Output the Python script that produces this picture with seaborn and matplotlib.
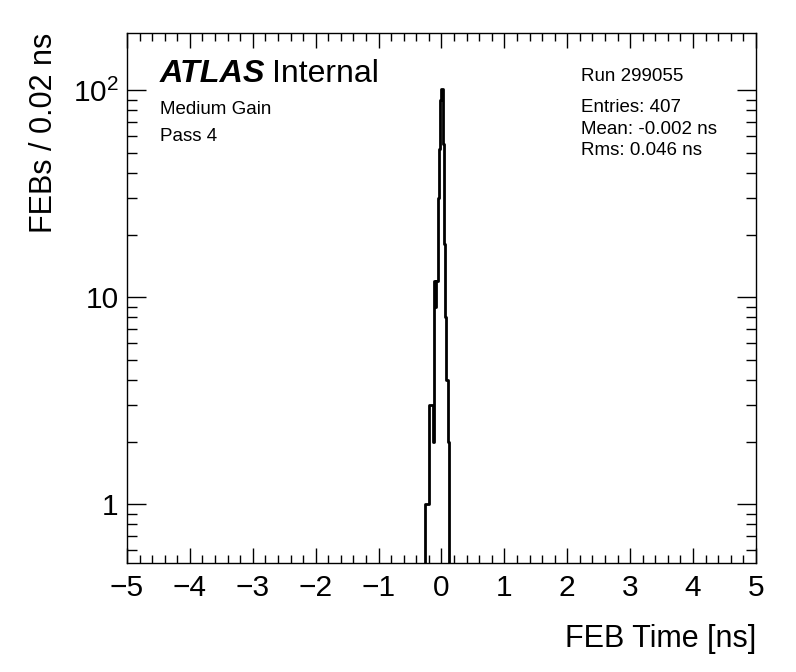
import numpy as np
import pandas as pd
import matplotlib
matplotlib.use("Agg")
import matplotlib.pyplot as plt
import seaborn as sns
from matplotlib.ticker import MultipleLocator, FixedLocator, FixedFormatter, LogLocator, NullFormatter

# ---- data ----
bin_width = 0.02
bin_index = [-13, -12, -11, -10, -9, -8, -7, -6, -5, -4, -3, -2, -1, 0, 1, 2, 3, 4, 5]
counts = [1, 1, 1, 3, 3, 3, 2, 12, 9, 12, 30, 52, 90, 101, 55, 18, 8, 4, 2]
x_range = (-5, 5)
y_ticks = [1, 10, 100]
y_ticklabels = ["1", "10", "$10^{2}$"]
x_ticks = [-5, -4, -3, -2, -1, 0, 1, 2, 3, 4, 5]

df = pd.DataFrame({
    "time": [(k + 0.5) * bin_width for k in bin_index],
    "n": counts,
})

sns.set_style("ticks")
plt.rcParams["font.family"] = ["Liberation Sans", "DejaVu Sans"]
plt.rcParams["mathtext.fontset"] = "custom"
plt.rcParams["mathtext.rm"] = "Liberation Sans"
plt.rcParams["mathtext.it"] = "Liberation Sans:italic"
for key in ["text.color", "axes.labelcolor", "xtick.color", "ytick.color", "axes.edgecolor"]:
    plt.rcParams[key] = "black"

fig = plt.figure(figsize=(7.96, 6.72), dpi=100)
ax = fig.add_axes([0.1595, 0.1622, 0.7902, 0.7887])

sns.histplot(data=df, x="time", weights="n", binwidth=bin_width, binrange=x_range,
             element="step", fill=False, color="black", linewidth=2.0, ax=ax)

ax.set_yscale("log")
ax.set_xlim(*x_range)
ax.set_ylim(0.52, 189)

for s in ax.spines.values():
    s.set_linewidth(1.0)
    s.set_color("black")

ax.xaxis.set_major_locator(FixedLocator(x_ticks))
ax.xaxis.set_minor_locator(MultipleLocator(0.2))
ax.yaxis.set_major_locator(FixedLocator(y_ticks))
ax.yaxis.set_major_formatter(FixedFormatter(y_ticklabels))
ax.yaxis.set_minor_locator(LogLocator(base=10, subs=np.arange(2, 10)))
ax.yaxis.set_minor_formatter(NullFormatter())

ax.tick_params(axis="both", which="both", direction="in", top=True, right=True,
               width=1.0, color="black", labelcolor="black")
ax.tick_params(axis="x", which="major", length=11, labelsize=21.5, pad=8)
ax.tick_params(axis="x", which="minor", length=5.5)
ax.tick_params(axis="y", which="major", length=14, labelsize=21.5, pad=6)
ax.tick_params(axis="y", which="minor", length=7)

ax.set_xlabel("FEB Time [ns]", fontsize=22, loc="right", labelpad=16)
ax.set_ylabel("FEBs / 0.02 ns", fontsize=22, loc="top", labelpad=10)

tr = ax.transAxes
def px(x, y):
    return ((x - 127) / 629.0, (563 - y) / 530.0)

ax.text(*px(160, 82), "ATLAS", transform=tr, fontsize=23.3, fontweight="bold",
        fontstyle="italic", ha="left", va="baseline")
ax.text(*px(272, 82), "Internal", transform=tr, fontsize=23, ha="left", va="baseline")
ax.text(*px(160, 114), "Medium Gain", transform=tr, fontsize=13.5, ha="left", va="baseline")
ax.text(*px(160, 141), "Pass 4", transform=tr, fontsize=13.5, ha="left", va="baseline")
ax.text(*px(581, 81), "Run 299055", transform=tr, fontsize=13.5, ha="left", va="baseline")
ax.text(*px(581, 112), "Entries: 407", transform=tr, fontsize=13.5, ha="left", va="baseline")
ax.text(*px(581, 134), "Mean: -0.002 ns", transform=tr, fontsize=13.5, ha="left", va="baseline")
ax.text(*px(581, 155), "Rms: 0.046 ns", transform=tr, fontsize=13.5, ha="left", va="baseline")

fig.savefig("out.png", dpi=100)
